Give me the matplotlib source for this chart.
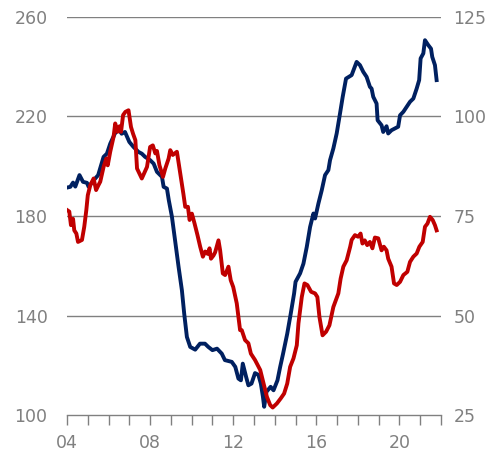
import matplotlib
matplotlib.use('Agg')
import matplotlib.pyplot as plt

# navy line, left axis
navy_year = [2004.0, 2004.16, 2004.29, 2004.4, 2004.6, 2004.77, 2004.96, 2005.04, 2005.28, 2005.5,
             2005.76, 2005.92, 2006.08, 2006.3, 2006.47, 2006.63, 2006.79, 2007.0, 2007.2, 2007.44,
             2007.6, 2007.76, 2008.0, 2008.17, 2008.33, 2008.57, 2008.65, 2008.81, 2008.9, 2009.05,
             2009.2, 2009.37, 2009.53, 2009.64, 2009.77, 2009.93, 2010.17, 2010.4, 2010.64, 2010.8,
             2011.0, 2011.22, 2011.45, 2011.6, 2011.93, 2012.1, 2012.25, 2012.37, 2012.46, 2012.62,
             2012.73, 2012.88, 2013.05, 2013.21, 2013.33, 2013.43, 2013.49, 2013.6, 2013.8, 2013.94,
             2014.13, 2014.26, 2014.4, 2014.6, 2014.77, 2014.93, 2015.0, 2015.22, 2015.38, 2015.54,
             2015.7, 2015.86, 2015.94, 2016.1, 2016.26, 2016.42, 2016.58, 2016.66, 2016.82, 2016.98,
             2017.14, 2017.27, 2017.43, 2017.7, 2017.94, 2018.1, 2018.26, 2018.42, 2018.58, 2018.66,
             2018.74, 2018.9, 2018.95, 2019.14, 2019.22, 2019.38, 2019.46, 2019.62, 2019.78, 2019.94,
             2020.03, 2020.19, 2020.35, 2020.51, 2020.67, 2020.83, 2020.95, 2021.02, 2021.15, 2021.23,
             2021.39, 2021.52, 2021.58, 2021.71, 2021.79]
navy_val = [191.4, 191.7, 193.4, 191.8, 196.4, 193.7, 193.3, 191.7, 194.3, 196.4,
            203.7, 205.0, 209.0, 213.0, 215.0, 213.0, 213.7, 209.7, 207.7, 205.7,
            205.0, 203.7, 202.4, 201.0, 197.7, 195.7, 191.7, 191.0, 186.3, 179.7,
            170.3, 159.6, 150.2, 140.9, 131.5, 127.5, 126.4, 128.8, 128.8, 127.5,
            126.2, 126.8, 124.8, 122.2, 121.5, 119.5, 114.8, 114.1, 120.8, 115.5,
            112.1, 112.8, 117.0, 116.3, 112.8, 107.5, 103.5, 109.5, 111.5, 110.1,
            114.1, 119.5, 124.8, 132.8, 140.9, 148.9, 153.6, 157.0, 160.9, 167.6,
            175.6, 181.0, 179.0, 185.0, 190.3, 196.4, 198.4, 202.4, 207.1, 213.1,
            221.1, 227.8, 235.1, 236.5, 241.8, 240.5, 237.8, 235.8, 231.8, 231.1,
            227.8, 225.1, 218.4, 216.4, 213.7, 216.0, 213.1, 214.4, 215.1, 215.8,
            220.4, 221.8, 223.8, 225.8, 227.1, 231.1, 234.5, 243.2, 245.2, 250.5,
            248.5, 247.1, 243.8, 240.5, 234.5]

# red line, right axis
red_year = [2004.0, 2004.11, 2004.19, 2004.29, 2004.35, 2004.45, 2004.53, 2004.72, 2004.83, 2004.93,
            2005.0, 2005.12, 2005.28, 2005.4, 2005.51, 2005.6, 2005.76, 2005.89, 2005.96, 2006.08,
            2006.24, 2006.32, 2006.43, 2006.53, 2006.6, 2006.7, 2006.81, 2006.96, 2007.08, 2007.18,
            2007.29, 2007.37, 2007.6, 2007.85, 2008.0, 2008.13, 2008.25, 2008.33, 2008.45, 2008.62,
            2008.73, 2008.89, 2008.97, 2009.09, 2009.29, 2009.45, 2009.6, 2009.69, 2009.82, 2009.9,
            2010.01, 2010.14, 2010.28, 2010.41, 2010.54, 2010.65, 2010.77, 2010.86, 2010.93, 2011.05,
            2011.13, 2011.29, 2011.37, 2011.5, 2011.61, 2011.77, 2011.88, 2012.0, 2012.17, 2012.33,
            2012.41, 2012.57, 2012.73, 2012.85, 2013.05, 2013.3, 2013.46, 2013.62, 2013.78, 2013.9,
            2014.1, 2014.29, 2014.45, 2014.6, 2014.74, 2014.9, 2015.06, 2015.14, 2015.3, 2015.43,
            2015.57, 2015.75, 2015.94, 2016.05, 2016.15, 2016.3, 2016.47, 2016.63, 2016.82, 2017.06,
            2017.17, 2017.3, 2017.46, 2017.63, 2017.7, 2017.86, 2018.01, 2018.13, 2018.22, 2018.33,
            2018.45, 2018.58, 2018.7, 2018.82, 2018.98, 2019.14, 2019.25, 2019.38, 2019.46, 2019.62,
            2019.74, 2019.87, 2020.03, 2020.19, 2020.38, 2020.51, 2020.67, 2020.83, 2020.96, 2021.12,
            2021.23, 2021.35, 2021.47, 2021.6, 2021.71, 2021.79]
red_val = [76.5, 76.1, 72.7, 74.3, 71.4, 70.6, 68.5, 69.0, 72.3, 76.5,
           80.2, 82.7, 84.4, 81.5, 82.7, 83.6, 87.3, 89.4, 87.7, 91.1,
           94.8, 98.2, 96.1, 97.5, 96.1, 100.3, 101.1, 101.5, 97.3, 95.6,
           94.0, 86.9, 84.4, 87.3, 92.3, 92.7, 90.7, 91.3, 87.7, 84.8,
           86.9, 89.4, 91.5, 90.3, 91.1, 85.7, 80.6, 77.3, 77.3, 74.0,
           75.6, 73.1, 70.2, 67.3, 64.8, 66.1, 65.5, 66.9, 64.3, 65.1,
           65.9, 68.9, 66.4, 60.6, 60.2, 62.3, 58.9, 57.2, 53.1, 46.4,
           46.4, 43.9, 43.1, 40.5, 38.9, 36.4, 33.0, 29.7, 27.6, 27.0,
           28.0, 29.3, 30.5, 33.0, 37.2, 39.3, 42.6, 48.1, 54.7, 58.1,
           57.7, 56.0, 55.6, 54.7, 49.7, 45.1, 46.0, 47.6, 52.2, 55.6,
           59.3, 62.3, 63.9, 67.3, 69.0, 70.2, 69.8, 70.6, 68.1, 68.9,
           67.7, 68.5, 66.9, 69.6, 69.4, 66.4, 67.3, 66.4, 64.3, 62.3,
           58.1, 57.7, 58.5, 60.2, 61.0, 63.5, 64.8, 65.6, 67.3, 68.5,
           72.3, 73.1, 74.8, 74.0, 72.7, 71.4]

left_ticks = [100, 140, 180, 220, 260]
right_ticks = [25, 50, 75, 100, 125]
year_ticks = [2004, 2008, 2012, 2016, 2020]
year_labels = ['04', '08', '12', '16', '20']

navy = '#002060'
red = '#C00000'
grey = '#808080'

fig = plt.figure(figsize=(4.87, 4.5), dpi=100)
ax = fig.add_axes([0.1376, 0.0767, 0.9055 - 0.1376, 0.9633 - 0.0767])
ax2 = ax.twinx()

for y in left_ticks[1:]:
    ax.axhline(y, color=grey, lw=1.0, zorder=0)

ax.plot(navy_year, navy_val, color=navy, lw=2.8, solid_joinstyle='round', zorder=3)
ax2.plot(red_year, red_val, color=red, lw=2.8, solid_joinstyle='round', zorder=3)

ax.set_xlim(2004, 2022)
ax.set_ylim(100, 260)
ax2.set_ylim(25, 125)
ax.set_yticks(left_ticks)
ax2.set_yticks(right_ticks)
ax.set_xticks(range(2004, 2023), minor=True)
ax.set_xticks(year_ticks)
ax.set_xticklabels(year_labels)

for a in (ax, ax2):
    for s in ['top', 'left', 'right', 'bottom']:
        a.spines[s].set_visible(False)

ax.spines['bottom'].set_visible(True)
ax.spines['bottom'].set_color(grey)
ax.spines['bottom'].set_linewidth(1.0)

ax.tick_params(axis='x', which='both', direction='out', length=7, width=1, color=grey,
               labelcolor=grey, labelsize=12.5, pad=6)
ax.tick_params(axis='y', length=0, labelcolor=grey, labelsize=12.5, pad=14)
ax2.tick_params(axis='y', length=0, labelcolor=grey, labelsize=12.5, pad=9)

fig.savefig('out.png', dpi=100)
